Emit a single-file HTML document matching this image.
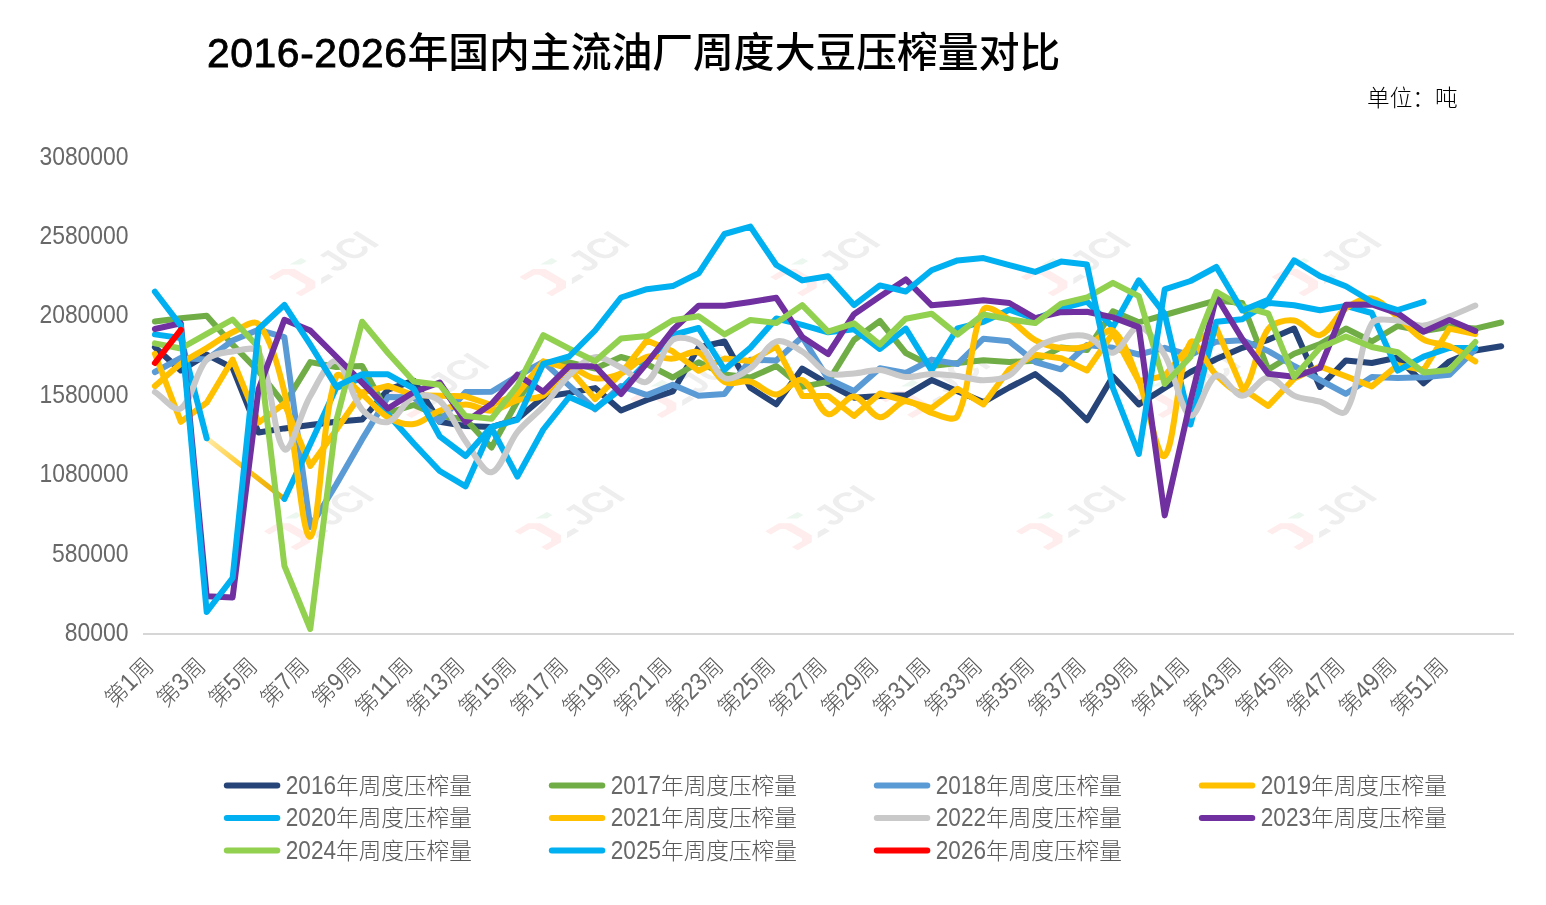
<!DOCTYPE html>
<html lang="zh-CN"><head><meta charset="utf-8"><title>2016-2026年国内主流油厂周度大豆压榨量对比</title>
<style>
html,body{margin:0;padding:0;background:#fff;}
body{width:1546px;height:905px;overflow:hidden;font-family:"Liberation Sans", "Noto Sans CJK SC", sans-serif;}
svg{display:block}
text{font-family:"Liberation Sans", "Noto Sans CJK SC", sans-serif;}
.title{font-size:40.8px;font-weight:500;fill:#000;}
.title .d{letter-spacing:0.6px;stroke:#000;stroke-width:0.8px;}
.unit{font-size:22.67px;font-weight:300;fill:#000;}
.yl{font-size:25.2px;font-weight:300;fill:#686868;text-anchor:end;}
.xl{font-size:22.67px;font-weight:300;fill:#595959;text-anchor:end;}
.dg{font-size:25.2px;fill:#686868;}
.lg{font-size:22.67px;font-weight:300;fill:#595959;}
.s{fill:none;stroke-linecap:round;stroke-linejoin:round;}
</style></head><body>
<svg width="1546" height="905" viewBox="0 0 1546 905">
<rect width="1546" height="905" fill="#fff"/>

<defs><linearGradient id="cg" gradientUnits="userSpaceOnUse" x1="207" y1="438" x2="285" y2="499"><stop offset="0" stop-color="#FFEBAA"/><stop offset="0.5" stop-color="#FFC61A"/><stop offset="1" stop-color="#E3A600"/></linearGradient></defs>
<g><polygon points="268.8,277.1 282.3,269.1 294.6,269.1 315.3,281.2 315.3,288.1 301.1,296.2 295.5,292.9 305.4,287.2 305.4,284.2 288.8,274.8 283.9,274.8 274.3,280.3" fill="#FFEDED"/><polygon points="289.5,264.5 301.1,257.9 306.7,260.9 301.1,264.5" fill="#ECF7F0"/><polygon points="321.2,278.0 328.3,273.9 333.4,276.8 321.2,284.2" fill="#EEEEEE"/><text transform="matrix(0.758,-0.494,0.846,0.533,336.3,272.9)" font-size="38" font-weight="700" fill="#EEEEEE">JCI</text></g>
<g><polygon points="519.5,277.1 533.0,269.1 545.3,269.1 566.0,281.2 566.0,288.1 551.8,296.2 546.2,292.9 556.1,287.2 556.1,284.2 539.5,274.8 534.6,274.8 525.0,280.3" fill="#FFEDED"/><polygon points="540.2,264.5 551.8,257.9 557.4,260.9 551.8,264.5" fill="#ECF7F0"/><polygon points="571.9,278.0 579.0,273.9 584.1,276.8 571.9,284.2" fill="#EEEEEE"/><text transform="matrix(0.758,-0.494,0.846,0.533,587.0,272.9)" font-size="38" font-weight="700" fill="#EEEEEE">JCI</text></g>
<g><polygon points="770.2,277.1 783.7,269.1 796.0,269.1 816.7,281.2 816.7,288.1 802.5,296.2 796.9,292.9 806.8,287.2 806.8,284.2 790.2,274.8 785.3,274.8 775.7,280.3" fill="#FFEDED"/><polygon points="790.9,264.5 802.5,257.9 808.1,260.9 802.5,264.5" fill="#ECF7F0"/><polygon points="822.6,278.0 829.7,273.9 834.8,276.8 822.6,284.2" fill="#EEEEEE"/><text transform="matrix(0.758,-0.494,0.846,0.533,837.7,272.9)" font-size="38" font-weight="700" fill="#EEEEEE">JCI</text></g>
<g><polygon points="1020.9,277.1 1034.4,269.1 1046.7,269.1 1067.4,281.2 1067.4,288.1 1053.2,296.2 1047.6,292.9 1057.5,287.2 1057.5,284.2 1040.9,274.8 1036.0,274.8 1026.4,280.3" fill="#FFEDED"/><polygon points="1041.6,264.5 1053.2,257.9 1058.8,260.9 1053.2,264.5" fill="#ECF7F0"/><polygon points="1073.3,278.0 1080.4,273.9 1085.5,276.8 1073.3,284.2" fill="#EEEEEE"/><text transform="matrix(0.758,-0.494,0.846,0.533,1088.4,272.9)" font-size="38" font-weight="700" fill="#EEEEEE">JCI</text></g>
<g><polygon points="1271.6,277.1 1285.1,269.1 1297.4,269.1 1318.1,281.2 1318.1,288.1 1303.9,296.2 1298.3,292.9 1308.2,287.2 1308.2,284.2 1291.6,274.8 1286.7,274.8 1277.1,280.3" fill="#FFEDED"/><polygon points="1292.3,264.5 1303.9,257.9 1309.5,260.9 1303.9,264.5" fill="#ECF7F0"/><polygon points="1324.0,278.0 1331.1,273.9 1336.2,276.8 1324.0,284.2" fill="#EEEEEE"/><text transform="matrix(0.758,-0.494,0.846,0.533,1339.1,272.9)" font-size="38" font-weight="700" fill="#EEEEEE">JCI</text></g>
<g><polygon points="379.3,399.0 392.8,391.0 405.1,391.0 425.8,403.1 425.8,410.0 411.6,418.1 406.0,414.8 415.9,409.1 415.9,406.1 399.3,396.7 394.4,396.7 384.8,402.2" fill="#FFEDED"/><polygon points="400.0,386.4 411.6,379.8 417.2,382.8 411.6,386.4" fill="#ECF7F0"/><polygon points="431.7,399.9 438.8,395.8 443.9,398.7 431.7,406.1" fill="#EEEEEE"/><text transform="matrix(0.758,-0.494,0.846,0.533,446.8,394.8)" font-size="38" font-weight="700" fill="#EEEEEE">JCI</text></g>
<g><polygon points="629.8,399.0 643.3,391.0 655.6,391.0 676.3,403.1 676.3,410.0 662.1,418.1 656.5,414.8 666.4,409.1 666.4,406.1 649.8,396.7 644.9,396.7 635.3,402.2" fill="#FFEDED"/><polygon points="650.5,386.4 662.1,379.8 667.7,382.8 662.1,386.4" fill="#ECF7F0"/><polygon points="682.2,399.9 689.3,395.8 694.4,398.7 682.2,406.1" fill="#EEEEEE"/><text transform="matrix(0.758,-0.494,0.846,0.533,697.3,394.8)" font-size="38" font-weight="700" fill="#EEEEEE">JCI</text></g>
<g><polygon points="880.3,399.0 893.8,391.0 906.1,391.0 926.8,403.1 926.8,410.0 912.6,418.1 907.0,414.8 916.9,409.1 916.9,406.1 900.3,396.7 895.4,396.7 885.8,402.2" fill="#FFEDED"/><polygon points="901.0,386.4 912.6,379.8 918.2,382.8 912.6,386.4" fill="#ECF7F0"/><polygon points="932.7,399.9 939.8,395.8 944.9,398.7 932.7,406.1" fill="#EEEEEE"/><text transform="matrix(0.758,-0.494,0.846,0.533,947.8,394.8)" font-size="38" font-weight="700" fill="#EEEEEE">JCI</text></g>
<g><polygon points="1130.8,399.0 1144.3,391.0 1156.6,391.0 1177.3,403.1 1177.3,410.0 1163.1,418.1 1157.5,414.8 1167.4,409.1 1167.4,406.1 1150.8,396.7 1145.9,396.7 1136.3,402.2" fill="#FFEDED"/><polygon points="1151.5,386.4 1163.1,379.8 1168.7,382.8 1163.1,386.4" fill="#ECF7F0"/><polygon points="1183.2,399.9 1190.3,395.8 1195.4,398.7 1183.2,406.1" fill="#EEEEEE"/><text transform="matrix(0.758,-0.494,0.846,0.533,1198.3,394.8)" font-size="38" font-weight="700" fill="#EEEEEE">JCI</text></g>
<g><polygon points="263.9,531.2 277.4,523.2 289.7,523.2 310.4,535.3 310.4,542.2 296.2,550.3 290.6,547.0 300.5,541.3 300.5,538.3 283.9,528.9 279.0,528.9 269.4,534.4" fill="#FFEDED"/><polygon points="284.6,518.6 296.2,512.0 301.8,515.0 296.2,518.6" fill="#ECF7F0"/><polygon points="316.3,532.1 323.4,528.0 328.5,530.9 316.3,538.3" fill="#EEEEEE"/><text transform="matrix(0.758,-0.494,0.846,0.533,331.4,527.0)" font-size="38" font-weight="700" fill="#EEEEEE">JCI</text></g>
<g><polygon points="514.6,531.2 528.1,523.2 540.4,523.2 561.1,535.3 561.1,542.2 546.9,550.3 541.3,547.0 551.2,541.3 551.2,538.3 534.6,528.9 529.7,528.9 520.1,534.4" fill="#FFEDED"/><polygon points="535.3,518.6 546.9,512.0 552.5,515.0 546.9,518.6" fill="#ECF7F0"/><polygon points="567.0,532.1 574.1,528.0 579.2,530.9 567.0,538.3" fill="#EEEEEE"/><text transform="matrix(0.758,-0.494,0.846,0.533,582.1,527.0)" font-size="38" font-weight="700" fill="#EEEEEE">JCI</text></g>
<g><polygon points="765.3,531.2 778.8,523.2 791.1,523.2 811.8,535.3 811.8,542.2 797.6,550.3 792.0,547.0 801.9,541.3 801.9,538.3 785.3,528.9 780.4,528.9 770.8,534.4" fill="#FFEDED"/><polygon points="786.0,518.6 797.6,512.0 803.2,515.0 797.6,518.6" fill="#ECF7F0"/><polygon points="817.7,532.1 824.8,528.0 829.9,530.9 817.7,538.3" fill="#EEEEEE"/><text transform="matrix(0.758,-0.494,0.846,0.533,832.8,527.0)" font-size="38" font-weight="700" fill="#EEEEEE">JCI</text></g>
<g><polygon points="1016.0,531.2 1029.5,523.2 1041.8,523.2 1062.5,535.3 1062.5,542.2 1048.3,550.3 1042.7,547.0 1052.6,541.3 1052.6,538.3 1036.0,528.9 1031.1,528.9 1021.5,534.4" fill="#FFEDED"/><polygon points="1036.7,518.6 1048.3,512.0 1053.9,515.0 1048.3,518.6" fill="#ECF7F0"/><polygon points="1068.4,532.1 1075.5,528.0 1080.6,530.9 1068.4,538.3" fill="#EEEEEE"/><text transform="matrix(0.758,-0.494,0.846,0.533,1083.5,527.0)" font-size="38" font-weight="700" fill="#EEEEEE">JCI</text></g>
<g><polygon points="1266.7,531.2 1280.2,523.2 1292.5,523.2 1313.2,535.3 1313.2,542.2 1299.0,550.3 1293.4,547.0 1303.3,541.3 1303.3,538.3 1286.7,528.9 1281.8,528.9 1272.2,534.4" fill="#FFEDED"/><polygon points="1287.4,518.6 1299.0,512.0 1304.6,515.0 1299.0,518.6" fill="#ECF7F0"/><polygon points="1319.1,532.1 1326.2,528.0 1331.3,530.9 1319.1,538.3" fill="#EEEEEE"/><text transform="matrix(0.758,-0.494,0.846,0.533,1334.2,527.0)" font-size="38" font-weight="700" fill="#EEEEEE">JCI</text></g>
<text class="title" x="207" y="67"><tspan class="d">2016-2026</tspan>年国内主流油厂周度大豆压榨量对比</text>
<text class="unit" x="1367" y="106">单位：吨</text>
<text class="yl" x="128.6" y="164.6" textLength="89.2" lengthAdjust="spacingAndGlyphs">3080000</text>
<text class="yl" x="128.6" y="244.0" textLength="89.2" lengthAdjust="spacingAndGlyphs">2580000</text>
<text class="yl" x="128.6" y="323.4" textLength="89.2" lengthAdjust="spacingAndGlyphs">2080000</text>
<text class="yl" x="128.6" y="402.8" textLength="89.2" lengthAdjust="spacingAndGlyphs">1580000</text>
<text class="yl" x="128.6" y="482.2" textLength="89.2" lengthAdjust="spacingAndGlyphs">1080000</text>
<text class="yl" x="128.6" y="561.6" textLength="76.5" lengthAdjust="spacingAndGlyphs">580000</text>
<text class="yl" x="128.6" y="641.0" textLength="63.8" lengthAdjust="spacingAndGlyphs">80000</text>
<line x1="143" y1="634" x2="1514" y2="634" stroke="#D6D6D6" stroke-width="2"/>
<path class="s" d="M154.9,347.2 L180.8,370.4 L206.7,354.6 L232.6,367.9 L258.5,432.5 L284.4,428.4 L310.3,425.1 L336.2,421.8 L362.1,419.6 L388.0,389.7 L413.8,380.7 L439.7,421.9 L465.6,426.0 L491.5,427.0 L517.4,419.0 L543.3,397.0 L569.2,392.9 L595.1,388.1 L621.0,410.5 L646.9,400.0 L672.7,391.4 L698.6,347.5 L724.5,341.5 L750.4,387.8 L776.3,404.3 L802.2,368.6 L828.1,383.8 L854.0,397.7 L879.9,395.9 L905.8,395.3 L931.6,380.1 L957.5,391.2 L983.4,402.1 L1009.3,387.5 L1035.2,374.1 L1061.1,394.8 L1087.0,420.2 L1112.9,376.5 L1138.8,404.4 L1164.7,388.0 L1190.5,372.0 L1216.4,359.0 L1242.3,347.8 L1268.2,339.8 L1294.1,328.5 L1320.0,387.0 L1345.9,360.4 L1371.8,363.0 L1397.7,357.5 L1423.6,383.3 L1449.4,361.4 L1475.3,350.5 L1501.2,346.2" stroke="#264478" stroke-width="6" stroke-opacity="1"/>
<path class="s" d="M154.9,321.5 L180.8,318.2 L206.7,315.7 L232.6,344.7 L258.5,371.2 L284.4,404.4 L310.3,362.1 L336.2,367.0 L362.1,366.0 L388.0,412.9 L413.8,405.0 L439.7,416.0 L465.6,419.3 L491.5,447.5 L517.4,401.2 L543.3,362.5 L569.2,362.5 L595.1,368.6 L621.0,357.0 L646.9,364.1 L672.7,377.5 L698.6,362.3 L724.5,374.4 L750.4,377.5 L776.3,366.0 L802.2,386.8 L828.1,381.9 L854.0,340.0 L879.9,321.0 L905.8,353.0 L931.6,366.0 L957.5,363.0 L983.4,360.3 L1009.3,362.0 L1035.2,360.8 L1061.1,347.4 L1087.0,350.0 L1112.9,311.3 L1138.8,322.3 L1164.7,315.0 L1190.5,307.7 L1216.4,300.4 L1242.3,303.0 L1268.2,369.5 L1294.1,353.8 L1320.0,344.0 L1345.9,328.5 L1371.8,341.5 L1397.7,326.0 L1423.6,331.0 L1449.4,326.8 L1475.3,328.6 L1501.2,322.5" stroke="#70AD47" stroke-width="6" stroke-opacity="1"/>
<path class="s" d="M154.9,372.0 L180.8,358.0 L206.7,359.5 L232.6,340.6 L258.5,329.8 L284.4,337.2 L310.3,527.0 L336.2,484.5 L362.1,439.4 L388.0,397.0 L413.8,397.3 L439.7,421.5 L465.6,392.0 L491.5,391.7 L517.4,376.0 L543.3,361.9 L569.2,385.6 L595.1,409.3 L621.0,386.0 L646.9,395.1 L672.7,384.8 L698.6,395.7 L724.5,393.9 L750.4,359.8 L776.3,360.5 L802.2,337.0 L828.1,378.9 L854.0,391.0 L879.9,368.3 L905.8,373.0 L931.6,359.6 L957.5,364.0 L983.4,338.7 L1009.3,341.3 L1035.2,362.0 L1061.1,369.3 L1087.0,345.0 L1112.9,347.8 L1138.8,354.5 L1164.7,347.8 L1190.5,355.1 L1216.4,341.7 L1242.3,340.3 L1268.2,351.0 L1294.1,366.0 L1320.0,380.0 L1345.9,393.8 L1371.8,377.0 L1397.7,378.0 L1423.6,377.2 L1449.4,374.8 L1475.3,349.3" stroke="#5B9BD5" stroke-width="6" stroke-opacity="1"/>
<path class="s" d="M154.9,353.8 L180.8,421.8 L206.7,402.7 L232.6,359.6 L258.5,422.6 L284.4,403.5 L310.3,466.0 L336.2,430.0 L362.1,392.5 L388.0,385.9 L413.8,395.2 L439.7,395.8 L465.6,396.3 L491.5,405.0 L517.4,394.0 L543.3,361.3 L569.2,368.6 L595.1,399.0 L621.0,373.5 L646.9,340.4 L672.7,351.3 L698.6,370.8 L724.5,358.6 L750.4,361.0 L776.3,346.5 L802.2,395.9 L828.1,395.9 L854.0,416.0 L879.9,393.5 L905.8,401.0 L931.6,408.2 L957.5,388.7 L983.4,404.5 L1009.3,369.3 L1035.2,354.7 L1061.1,358.3 L1087.0,370.5 L1112.9,333.2 L1138.8,381.3 L1164.7,375.9 L1190.5,344.9 L1216.4,328.3 L1242.3,388.4 L1268.2,406.0 L1294.1,378.6 L1320.0,366.5 L1345.9,376.2 L1371.8,386.4 L1397.7,365.1 L1423.6,370.0 L1449.4,328.6 L1475.3,334.1" stroke="#FFC000" stroke-width="6" stroke-opacity="1"/>
<path class="s" d="M206.7,438.3 L284.4,499.0" stroke="url(#cg)" stroke-width="5" stroke-opacity="1"/>
<path class="s" d="M154.9,334.4 L180.8,338.0 L206.7,438.3" stroke="#00B0F0" stroke-width="6" stroke-opacity="1"/>
<path class="s" d="M284.4,499.0 L310.3,444.0 L336.2,388.0 L362.1,378.0 L388.0,414.5 L413.8,443.5 L439.7,471.0 L465.6,486.3 L491.5,428.0 L517.4,476.6 L543.3,429.5 L569.2,397.0 L595.1,408.6 L621.0,389.0 L646.9,362.0 L672.7,335.0 L698.6,328.0 L724.5,369.6 L750.4,347.7 L776.3,318.5 L802.2,324.8 L828.1,332.3 L854.0,329.3 L879.9,349.0 L905.8,328.6 L931.6,370.3 L957.5,328.3 L983.4,321.8 L1009.3,309.7 L1035.2,319.0 L1061.1,308.5 L1087.0,301.7 L1112.9,327.1 L1138.8,280.3 L1164.7,313.8 L1190.5,424.5 L1216.4,321.7 L1242.3,319.2 L1268.2,302.9 L1294.1,305.3 L1320.0,310.2 L1345.9,305.9 L1371.8,313.0 L1397.7,370.6 L1423.6,356.6 L1449.4,348.0 L1475.3,348.0" stroke="#00B0F0" stroke-width="6" stroke-opacity="1"/>
<path class="s" d="M154.9,386.1 C163.6,378.7 171.7,370.5 180.8,363.8 C189.0,357.8 198.1,353.3 206.7,348.0 C215.3,342.8 223.5,336.5 232.6,332.3 C240.8,328.5 253.8,318.6 258.5,324.0 C271.1,338.5 278.7,368.5 284.4,392.0 C295.9,439.4 302.1,539.2 310.3,536.7 C319.3,534.0 321.7,416.3 336.2,376.5 C339.0,368.8 353.9,387.7 362.1,394.1 C371.1,401.3 378.2,411.7 388.0,417.3 C395.5,421.6 405.6,425.1 413.8,424.0 C422.8,422.9 430.7,414.1 439.7,410.7 C448.0,407.6 457.0,404.5 465.6,404.5 C474.3,404.5 483.1,411.3 491.5,410.6 C500.4,409.9 508.5,402.8 517.4,400.2 C525.8,397.7 536.1,399.8 543.3,395.4 C553.4,389.2 559.3,371.9 569.2,368.6 C576.5,366.2 586.2,377.5 595.1,378.3 C603.5,379.1 613.0,376.8 621.0,373.5 C630.3,369.6 637.5,359.5 646.9,356.8 C654.7,354.5 664.2,359.3 672.7,358.6 C681.5,357.9 691.7,349.3 698.6,352.5 C708.9,357.1 714.1,376.1 724.5,382.0 C731.4,385.9 742.3,379.7 750.4,381.7 C759.5,383.9 767.8,394.8 776.3,394.5 C785.0,394.2 795.1,377.4 802.2,380.1 C812.4,384.0 818.1,410.9 828.1,414.1 C835.4,416.4 845.6,396.0 854.0,396.5 C862.9,397.0 870.9,416.4 879.9,417.2 C888.1,417.9 896.8,401.7 905.8,401.0 C914.1,400.3 922.6,410.3 931.6,412.9 C939.9,415.3 954.2,422.6 957.5,416.0 C971.5,388.2 969.6,335.4 983.4,309.7 C986.9,303.2 1001.5,314.8 1009.3,319.4 C1018.7,324.9 1025.7,334.9 1035.2,340.1 C1043.0,344.4 1052.3,347.0 1061.1,348.0 C1069.5,348.9 1079.0,348.5 1087.0,345.8 C1096.2,342.7 1106.9,326.7 1112.9,330.8 C1124.2,338.5 1131.6,363.6 1138.8,381.0 C1148.8,405.3 1157.7,461.1 1164.7,455.9 C1174.9,448.2 1177.8,362.2 1190.5,342.4 C1195.1,335.3 1206.4,365.8 1216.4,375.2 C1223.7,382.0 1237.0,395.8 1242.3,391.0 C1254.2,380.4 1255.9,345.7 1268.2,329.0 C1273.2,322.2 1285.8,319.5 1294.1,320.5 C1303.1,321.6 1312.3,336.9 1320.0,335.1 C1329.6,332.8 1336.0,315.3 1345.9,308.3 C1353.2,303.1 1363.7,297.1 1371.8,298.4 C1381.0,300.0 1389.4,310.4 1397.7,317.0 C1406.6,324.1 1413.8,334.1 1423.6,339.6 C1431.1,343.9 1441.3,342.8 1449.4,346.2 C1458.6,350.0 1466.7,356.3 1475.3,361.4" stroke="#FFC000" stroke-width="6" stroke-opacity="1"/>
<path class="s" d="M154.9,392.0 C163.6,397.5 174.7,412.4 180.8,408.5 C191.9,401.6 195.1,372.3 206.7,359.6 C212.4,353.3 223.8,352.8 232.6,351.5 C241.0,350.3 255.0,345.3 258.5,352.0 C272.2,377.9 273.5,440.0 284.4,449.2 C290.8,454.6 300.3,412.9 310.3,396.0 C317.6,383.5 328.6,359.0 336.2,361.0 C345.8,363.5 350.7,396.2 362.1,409.6 C368.0,416.6 380.3,423.9 388.0,422.0 C397.6,419.5 403.8,400.5 413.8,396.4 C421.1,393.4 433.6,395.5 439.7,400.8 C450.9,410.5 456.2,428.3 465.6,441.3 C473.5,452.2 483.6,473.7 491.5,472.3 C500.9,470.6 507.6,444.5 517.4,432.0 C524.9,422.5 535.1,415.4 543.3,406.5 C552.4,396.5 559.5,384.5 569.2,375.3 C576.8,368.1 585.9,358.5 595.1,357.1 C603.2,355.9 612.6,363.5 621.0,367.5 C629.8,371.7 640.4,385.2 646.9,381.7 C657.6,375.9 661.5,348.1 672.7,339.8 C678.7,335.4 692.1,338.6 698.6,343.4 C709.4,351.4 714.0,373.0 724.5,378.1 C731.3,381.3 743.1,373.5 750.4,368.3 C760.3,361.3 766.4,344.7 776.3,341.5 C783.7,339.1 794.4,346.7 802.2,351.5 C811.7,357.3 818.3,369.2 828.1,373.3 C835.6,376.5 845.4,373.9 854.0,373.4 C862.6,372.8 871.4,369.4 879.9,370.0 C888.6,370.6 897.0,376.3 905.8,377.0 C914.3,377.7 923.0,374.2 931.6,374.0 C940.3,373.8 948.9,375.0 957.5,376.0 C966.2,377.0 974.8,380.3 983.4,380.2 C992.1,380.1 1002.2,379.8 1009.3,375.4 C1019.4,369.2 1025.4,355.8 1035.2,348.6 C1042.6,343.2 1052.1,339.8 1061.1,337.7 C1069.4,335.7 1079.1,334.1 1087.0,336.4 C1096.3,339.1 1105.0,354.1 1112.9,352.7 C1122.3,351.0 1130.3,326.7 1138.8,327.1 C1147.6,327.5 1158.3,344.2 1164.7,355.0 C1175.6,373.6 1180.5,411.4 1190.5,415.4 C1197.8,418.3 1206.2,379.4 1216.4,375.5 C1223.5,372.8 1233.5,395.4 1242.3,395.7 C1250.8,396.0 1259.6,377.4 1268.2,377.4 C1276.8,377.4 1284.7,391.2 1294.1,395.6 C1302.0,399.3 1311.5,399.1 1320.0,401.7 C1328.8,404.4 1341.9,417.4 1345.9,411.4 C1359.1,391.4 1358.3,347.1 1371.8,323.5 C1375.6,316.8 1389.1,320.2 1397.7,320.5 C1406.3,320.9 1415.1,326.3 1423.6,325.6 C1432.4,324.9 1440.9,319.8 1449.4,316.5 C1458.2,313.1 1466.7,309.2 1475.3,305.5" stroke="#C9C9C9" stroke-width="6" stroke-opacity="1"/>
<path class="s" d="M154.9,329.0 L180.8,323.2 L206.7,596.2 L232.6,597.4 L258.5,389.5 L284.4,319.8 L310.3,330.6 L336.2,356.5 L362.1,382.7 L388.0,408.5 L413.8,392.0 L439.7,382.5 L465.6,422.0 L491.5,403.9 L517.4,374.7 L543.3,391.7 L569.2,366.2 L595.1,366.2 L621.0,394.0 L646.9,363.0 L672.7,330.0 L698.6,305.8 L724.5,305.8 L750.4,302.0 L776.3,297.8 L802.2,337.0 L828.1,354.0 L854.0,314.2 L879.9,296.5 L905.8,279.4 L931.6,305.3 L957.5,302.9 L983.4,300.2 L1009.3,303.0 L1035.2,318.2 L1061.1,312.2 L1087.0,311.7 L1112.9,317.4 L1138.8,327.1 L1164.7,515.4 L1190.5,401.0 L1216.4,296.5 L1242.3,339.0 L1268.2,373.8 L1294.1,376.8 L1320.0,368.0 L1345.9,304.7 L1371.8,304.5 L1397.7,313.3 L1423.6,331.7 L1449.4,320.1 L1475.3,331.0" stroke="#7030A0" stroke-width="6" stroke-opacity="1"/>
<path class="s" d="M154.9,343.4 L180.8,348.5 L206.7,333.9 L232.6,319.5 L258.5,347.2 L284.4,565.8 L310.3,629.0 L336.2,421.0 L362.1,321.7 L388.0,353.0 L413.8,381.5 L439.7,384.8 L465.6,416.1 L491.5,418.8 L517.4,385.8 L543.3,335.1 L569.2,348.6 L595.1,361.3 L621.0,338.4 L646.9,336.1 L672.7,320.2 L698.6,316.2 L724.5,334.4 L750.4,319.9 L776.3,323.0 L802.2,305.1 L828.1,331.6 L854.0,323.3 L879.9,344.5 L905.8,318.7 L931.6,313.7 L957.5,334.6 L983.4,314.4 L1009.3,319.4 L1035.2,323.1 L1061.1,303.6 L1087.0,297.5 L1112.9,282.8 L1138.8,296.1 L1164.7,384.0 L1190.5,357.0 L1216.4,291.9 L1242.3,306.5 L1268.2,313.5 L1294.1,377.0 L1320.0,347.7 L1345.9,336.5 L1371.8,347.0 L1397.7,352.2 L1423.6,372.4 L1449.4,369.9 L1475.3,342.0" stroke="#92D050" stroke-width="6" stroke-opacity="1"/>
<path class="s" d="M154.9,291.7 L180.8,325.6 L206.7,612.0 L232.6,578.0 L258.5,329.0 L284.4,304.9 L310.3,344.7 L336.2,386.4 L362.1,374.3 L388.0,374.3 L413.8,388.6 L439.7,436.3 L465.6,456.0 L491.5,426.8 L517.4,419.8 L543.3,363.8 L569.2,356.5 L595.1,330.5 L621.0,297.5 L646.9,289.2 L672.7,286.1 L698.6,273.3 L724.5,234.0 L750.4,226.6 L776.3,265.0 L802.2,280.4 L828.1,276.3 L854.0,305.1 L879.9,285.4 L905.8,291.5 L931.6,270.3 L957.5,260.4 L983.4,258.1 L1009.3,265.2 L1035.2,271.9 L1061.1,261.6 L1087.0,264.6 L1112.9,388.0 L1138.8,454.0 L1164.7,289.4 L1190.5,281.0 L1216.4,267.0 L1242.3,310.5 L1268.2,299.8 L1294.1,260.3 L1320.0,276.1 L1345.9,286.3 L1371.8,301.8 L1397.7,310.0 L1423.6,301.9" stroke="#00B0F0" stroke-width="6" stroke-opacity="1"/>
<path class="s" d="M154.9,363.0 L180.8,329.8" stroke="#FF0000" stroke-width="6" stroke-opacity="1"/>
<text class="xl" transform="translate(155.1,667.4) rotate(-45)">第<tspan class="dg" textLength="12.4" lengthAdjust="spacingAndGlyphs">1</tspan>周</text>
<text class="xl" transform="translate(206.9,667.4) rotate(-45)">第<tspan class="dg" textLength="12.4" lengthAdjust="spacingAndGlyphs">3</tspan>周</text>
<text class="xl" transform="translate(258.7,667.4) rotate(-45)">第<tspan class="dg" textLength="12.4" lengthAdjust="spacingAndGlyphs">5</tspan>周</text>
<text class="xl" transform="translate(310.5,667.4) rotate(-45)">第<tspan class="dg" textLength="12.4" lengthAdjust="spacingAndGlyphs">7</tspan>周</text>
<text class="xl" transform="translate(362.3,667.4) rotate(-45)">第<tspan class="dg" textLength="12.4" lengthAdjust="spacingAndGlyphs">9</tspan>周</text>
<text class="xl" transform="translate(414.0,667.4) rotate(-45)">第<tspan class="dg" textLength="24.8" lengthAdjust="spacingAndGlyphs">11</tspan>周</text>
<text class="xl" transform="translate(465.8,667.4) rotate(-45)">第<tspan class="dg" textLength="24.8" lengthAdjust="spacingAndGlyphs">13</tspan>周</text>
<text class="xl" transform="translate(517.6,667.4) rotate(-45)">第<tspan class="dg" textLength="24.8" lengthAdjust="spacingAndGlyphs">15</tspan>周</text>
<text class="xl" transform="translate(569.4,667.4) rotate(-45)">第<tspan class="dg" textLength="24.8" lengthAdjust="spacingAndGlyphs">17</tspan>周</text>
<text class="xl" transform="translate(621.2,667.4) rotate(-45)">第<tspan class="dg" textLength="24.8" lengthAdjust="spacingAndGlyphs">19</tspan>周</text>
<text class="xl" transform="translate(672.9,667.4) rotate(-45)">第<tspan class="dg" textLength="24.8" lengthAdjust="spacingAndGlyphs">21</tspan>周</text>
<text class="xl" transform="translate(724.7,667.4) rotate(-45)">第<tspan class="dg" textLength="24.8" lengthAdjust="spacingAndGlyphs">23</tspan>周</text>
<text class="xl" transform="translate(776.5,667.4) rotate(-45)">第<tspan class="dg" textLength="24.8" lengthAdjust="spacingAndGlyphs">25</tspan>周</text>
<text class="xl" transform="translate(828.3,667.4) rotate(-45)">第<tspan class="dg" textLength="24.8" lengthAdjust="spacingAndGlyphs">27</tspan>周</text>
<text class="xl" transform="translate(880.1,667.4) rotate(-45)">第<tspan class="dg" textLength="24.8" lengthAdjust="spacingAndGlyphs">29</tspan>周</text>
<text class="xl" transform="translate(931.8,667.4) rotate(-45)">第<tspan class="dg" textLength="24.8" lengthAdjust="spacingAndGlyphs">31</tspan>周</text>
<text class="xl" transform="translate(983.6,667.4) rotate(-45)">第<tspan class="dg" textLength="24.8" lengthAdjust="spacingAndGlyphs">33</tspan>周</text>
<text class="xl" transform="translate(1035.4,667.4) rotate(-45)">第<tspan class="dg" textLength="24.8" lengthAdjust="spacingAndGlyphs">35</tspan>周</text>
<text class="xl" transform="translate(1087.2,667.4) rotate(-45)">第<tspan class="dg" textLength="24.8" lengthAdjust="spacingAndGlyphs">37</tspan>周</text>
<text class="xl" transform="translate(1139.0,667.4) rotate(-45)">第<tspan class="dg" textLength="24.8" lengthAdjust="spacingAndGlyphs">39</tspan>周</text>
<text class="xl" transform="translate(1190.7,667.4) rotate(-45)">第<tspan class="dg" textLength="24.8" lengthAdjust="spacingAndGlyphs">41</tspan>周</text>
<text class="xl" transform="translate(1242.5,667.4) rotate(-45)">第<tspan class="dg" textLength="24.8" lengthAdjust="spacingAndGlyphs">43</tspan>周</text>
<text class="xl" transform="translate(1294.3,667.4) rotate(-45)">第<tspan class="dg" textLength="24.8" lengthAdjust="spacingAndGlyphs">45</tspan>周</text>
<text class="xl" transform="translate(1346.1,667.4) rotate(-45)">第<tspan class="dg" textLength="24.8" lengthAdjust="spacingAndGlyphs">47</tspan>周</text>
<text class="xl" transform="translate(1397.9,667.4) rotate(-45)">第<tspan class="dg" textLength="24.8" lengthAdjust="spacingAndGlyphs">49</tspan>周</text>
<text class="xl" transform="translate(1449.6,667.4) rotate(-45)">第<tspan class="dg" textLength="24.8" lengthAdjust="spacingAndGlyphs">51</tspan>周</text>
<line x1="226.8" y1="785.6" x2="277.3" y2="785.6" stroke="#264478" stroke-width="6" stroke-linecap="round"/>
<text class="lg" x="285.8" y="793.6"><tspan class="dg" textLength="50.2" lengthAdjust="spacingAndGlyphs">2016</tspan>年周度压榨量</text>
<line x1="551.8" y1="785.6" x2="602.3" y2="785.6" stroke="#70AD47" stroke-width="6" stroke-linecap="round"/>
<text class="lg" x="610.8" y="793.6"><tspan class="dg" textLength="50.2" lengthAdjust="spacingAndGlyphs">2017</tspan>年周度压榨量</text>
<line x1="876.8" y1="785.6" x2="927.3" y2="785.6" stroke="#5B9BD5" stroke-width="6" stroke-linecap="round"/>
<text class="lg" x="935.8" y="793.6"><tspan class="dg" textLength="50.2" lengthAdjust="spacingAndGlyphs">2018</tspan>年周度压榨量</text>
<line x1="1201.8" y1="785.6" x2="1252.3" y2="785.6" stroke="#FFC000" stroke-width="6" stroke-linecap="round"/>
<text class="lg" x="1260.8" y="793.6"><tspan class="dg" textLength="50.2" lengthAdjust="spacingAndGlyphs">2019</tspan>年周度压榨量</text>
<line x1="226.8" y1="818.1" x2="277.3" y2="818.1" stroke="#00B0F0" stroke-width="6" stroke-linecap="round"/>
<text class="lg" x="285.8" y="826.1"><tspan class="dg" textLength="50.2" lengthAdjust="spacingAndGlyphs">2020</tspan>年周度压榨量</text>
<line x1="551.8" y1="818.1" x2="602.3" y2="818.1" stroke="#FFC000" stroke-width="6" stroke-linecap="round"/>
<text class="lg" x="610.8" y="826.1"><tspan class="dg" textLength="50.2" lengthAdjust="spacingAndGlyphs">2021</tspan>年周度压榨量</text>
<line x1="876.8" y1="818.1" x2="927.3" y2="818.1" stroke="#C9C9C9" stroke-width="6" stroke-linecap="round"/>
<text class="lg" x="935.8" y="826.1"><tspan class="dg" textLength="50.2" lengthAdjust="spacingAndGlyphs">2022</tspan>年周度压榨量</text>
<line x1="1201.8" y1="818.1" x2="1252.3" y2="818.1" stroke="#7030A0" stroke-width="6" stroke-linecap="round"/>
<text class="lg" x="1260.8" y="826.1"><tspan class="dg" textLength="50.2" lengthAdjust="spacingAndGlyphs">2023</tspan>年周度压榨量</text>
<line x1="226.8" y1="850.6" x2="277.3" y2="850.6" stroke="#92D050" stroke-width="6" stroke-linecap="round"/>
<text class="lg" x="285.8" y="858.6"><tspan class="dg" textLength="50.2" lengthAdjust="spacingAndGlyphs">2024</tspan>年周度压榨量</text>
<line x1="551.8" y1="850.6" x2="602.3" y2="850.6" stroke="#00B0F0" stroke-width="6" stroke-linecap="round"/>
<text class="lg" x="610.8" y="858.6"><tspan class="dg" textLength="50.2" lengthAdjust="spacingAndGlyphs">2025</tspan>年周度压榨量</text>
<line x1="876.8" y1="850.6" x2="927.3" y2="850.6" stroke="#FF0000" stroke-width="6" stroke-linecap="round"/>
<text class="lg" x="935.8" y="858.6"><tspan class="dg" textLength="50.2" lengthAdjust="spacingAndGlyphs">2026</tspan>年周度压榨量</text>
</svg></body></html>
